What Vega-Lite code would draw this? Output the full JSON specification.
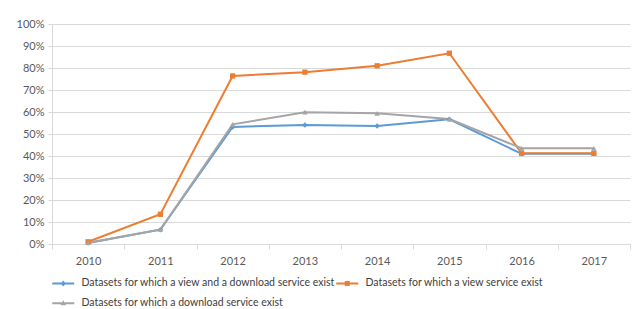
{
  "$schema": "https://vega.github.io/schema/vega-lite/v6.json",
  "autosize": "none",
  "width": 578,
  "height": 220,
  "padding": {"left": 52, "top": 24, "right": 2, "bottom": 65},
  "background": "white",
  "config": {
    "font": "Lato",
    "view": {"stroke": null},
    "axis": {"labelFont": "Lato", "labelFontSize": 11, "labelColor": "#595959", "domainColor": "#D9D9D9", "tickColor": "#D9D9D9", "gridColor": "#D9D9D9", "gridOpacity": 1, "title": null}
  },
  "data": {
    "values": [
      {"year": "2010", "series": "Datasets for which a view and a download service exist", "value": 0.005},
      {"year": "2011", "series": "Datasets for which a view and a download service exist", "value": 0.065},
      {"year": "2012", "series": "Datasets for which a view and a download service exist", "value": 0.532},
      {"year": "2013", "series": "Datasets for which a view and a download service exist", "value": 0.541},
      {"year": "2014", "series": "Datasets for which a view and a download service exist", "value": 0.536},
      {"year": "2015", "series": "Datasets for which a view and a download service exist", "value": 0.567},
      {"year": "2016", "series": "Datasets for which a view and a download service exist", "value": 0.41},
      {"year": "2017", "series": "Datasets for which a view and a download service exist", "value": 0.41},
      {"year": "2010", "series": "Datasets for which a view service exist", "value": 0.01},
      {"year": "2011", "series": "Datasets for which a view service exist", "value": 0.135},
      {"year": "2012", "series": "Datasets for which a view service exist", "value": 0.764},
      {"year": "2013", "series": "Datasets for which a view service exist", "value": 0.781},
      {"year": "2014", "series": "Datasets for which a view service exist", "value": 0.81},
      {"year": "2015", "series": "Datasets for which a view service exist", "value": 0.867},
      {"year": "2016", "series": "Datasets for which a view service exist", "value": 0.412},
      {"year": "2017", "series": "Datasets for which a view service exist", "value": 0.412},
      {"year": "2010", "series": "Datasets for which a download service exist", "value": 0.006},
      {"year": "2011", "series": "Datasets for which a download service exist", "value": 0.066},
      {"year": "2012", "series": "Datasets for which a download service exist", "value": 0.544},
      {"year": "2013", "series": "Datasets for which a download service exist", "value": 0.599},
      {"year": "2014", "series": "Datasets for which a download service exist", "value": 0.594},
      {"year": "2015", "series": "Datasets for which a download service exist", "value": 0.568},
      {"year": "2016", "series": "Datasets for which a download service exist", "value": 0.435},
      {"year": "2017", "series": "Datasets for which a download service exist", "value": 0.435}
    ]
  },
  "encoding": {
    "x": {"field": "year", "type": "ordinal", "scale": {"paddingInner": 0, "paddingOuter": 0},
          "axis": {"labelAngle": 0, "tickBand": "extent", "tickSize": 5, "labelPadding": 6, "domain": true}},
    "y": {"field": "value", "type": "quantitative", "scale": {"domain": [0, 1]},
          "axis": {"format": "%", "values": [0,0.1,0.2,0.3,0.4,0.5,0.6,0.7,0.8,0.9,1], "labelOverlap": false, "tickSize": 4, "labelPadding": 4, "domain": true}},
    "color": {"field": "series", "type": "nominal",
      "scale": {"domain": ["Datasets for which a view and a download service exist", "Datasets for which a view service exist", "Datasets for which a download service exist"],
                "range": ["#5B9BD5", "#ED7D31", "#A5A5A5"]},
      "legend": {"orient": "bottom", "title": null, "columns": 2, "direction": "horizontal", "labelFont": "Lato", "labelFontSize": 10.5, "labelColor": "#404040", "symbolSize": 100, "symbolOffset": 6, "labelOffset": 13, "rowPadding": 9, "columnPadding": -20, "offset": 12, "labelLimit": 400,
        "encode": {"symbols": {"update": {
          "shape": {"signal": "datum.value === 'Datasets for which a view service exist' ? 'M-2.2,-0.2H2.2V0.2H-2.2Z M-0.5,-0.5H0.5V0.5H-0.5Z' : datum.value === 'Datasets for which a download service exist' ? 'M-2.2,-0.2H2.2V0.2H-2.2Z M0,-0.6L0.55,0.4L-0.55,0.4Z' : 'M-2.2,-0.2H2.2V0.2H-2.2Z M0,-0.6L0.5,0L0,0.6L-0.5,0Z'"},
          "fill": {"scale": "color", "field": "value"},
          "fillOpacity": {"value": 1},
          "strokeWidth": {"value": 0}
        }}}}
    }
  },
  "layer": [
    {"mark": {"type": "line", "strokeWidth": 2}},
    {"transform": [{"filter": "datum.series === 'Datasets for which a view and a download service exist'"}],
     "mark": {"type": "point", "filled": true, "opacity": 1, "size": 30, "shape": "diamond"}},
    {"transform": [{"filter": "datum.series === 'Datasets for which a view service exist'"}],
     "mark": {"type": "point", "filled": true, "opacity": 1, "size": 28, "shape": "square"}},
    {"transform": [{"filter": "datum.series === 'Datasets for which a download service exist'"}],
     "mark": {"type": "point", "filled": true, "opacity": 1, "size": 30, "shape": "triangle-up"}}
  ]
}
